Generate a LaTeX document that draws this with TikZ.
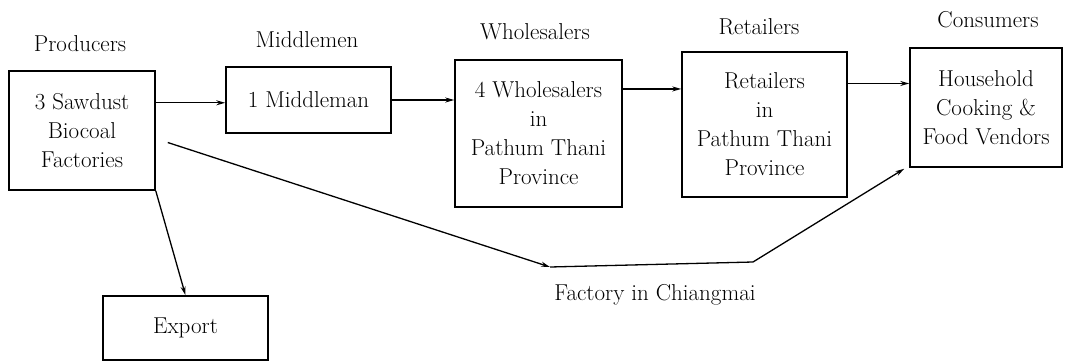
\documentclass[tikz,border=0pt]{standalone}
\usetikzlibrary{arrows.meta,calc}
\begin{document}
\begin{tikzpicture}[x=1pt,y=-1pt,
  txt/.style={font=\rmfamily\fontsize{23}{29}\selectfont,align=center,inner sep=0pt},
  box/.style={txt,draw,line width=1.5pt,minimum width=#1},
  arr/.style={line width=1.3pt,-{Stealth[length=9pt,width=5pt]}}]
\useasboundingbox (0,0) rectangle (1065,362);

% column headings
\node[txt] (hprod)  at (80,44)  {Producers};
\node[txt] (hmid)   at (307,40) {Middlemen};
\node[txt] (hwhole) at (535,32) {Wholesalers};
\node[txt] (hret)   at (759,27) {Retailers};
\node[txt] (hcons)  at (988,20) {Consumers};

% actors in the chain
\node[box=146pt,minimum height=119pt] (prod) at (82,130.5)
  {3 Sawdust\\Biocoal\\Factories};
\node[box=165pt,minimum height=66pt] (mid) at (308.5,100) {1 Middleman};
\node[box=167pt,minimum height=147pt] (whole) at (538.5,133.5)
  {4 Wholesalers\\in\\Pathum Thani\\Province};
\node[box=165pt,minimum height=145pt] (ret) at (764.5,124.5)
  {Retailers\\in\\Pathum Thani\\Province};
\node[box=152pt,minimum height=119pt] (cons) at (986,107.5)
  {Household\\Cooking \&\\Food Vendors};
\node[box=165pt,minimum height=64pt] (exp) at (185.5,328) {Export};
\node[txt] (cm) at (655,295) {Factory in Chiangmai};

% main distribution chain
\coordinate (p1) at ($(prod.north east)!0.27!(prod.south east)$);
\draw[arr] (p1) -- (p1 -| mid.west);
\draw[arr] (mid.east) -- (mid.east -| whole.west);
\coordinate (w1) at ($(whole.north east)!0.2!(whole.south east)$);
\draw[arr] (w1) -- (w1 -| ret.west);
\coordinate (r1) at ($(ret.north east)!0.22!(ret.south east)$);
\draw[arr] (r1) -- (r1 -| cons.west);

% export branch
\draw[arr] (prod.south east) -- (exp.north);

% route through the Chiangmai factory
\coordinate (d0) at ($(prod.east)+(12,12)$);
\coordinate (d1) at (550,267);
\coordinate (d2) at (753,262);
\coordinate (d3) at ($(cons.south west)+(-5,1)$);
\draw[arr] (d0) -- (d1);
\draw[arr] (d1) -- (d2) -- (d3);
\end{tikzpicture}
\end{document}
